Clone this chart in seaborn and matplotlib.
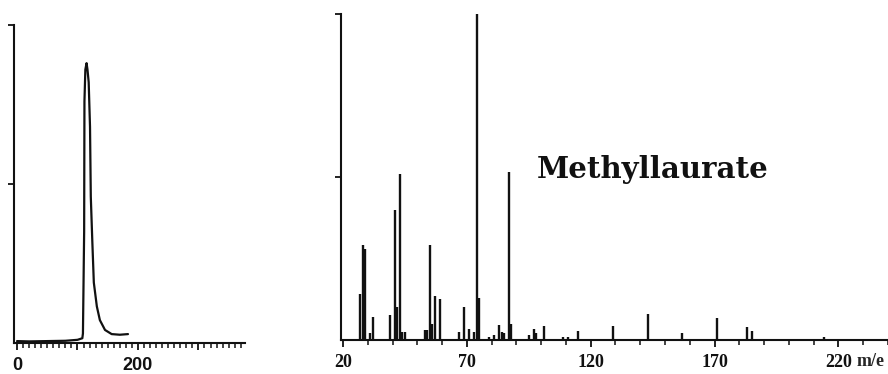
import numpy as np
import pandas as pd
import matplotlib
matplotlib.use("Agg")
import matplotlib.pyplot as plt
from matplotlib.ticker import MultipleLocator, FixedLocator, NullFormatter
import seaborn as sns

# ---- data: chromatogram (left) ----
chrom_time = [0, 20, 50, 80, 100, 108, 109, 111, 111.5, 113, 115, 116.5, 118.5,
              120.7, 122, 124.5, 127, 132, 137, 145.5, 156.5, 170, 183.5]
chrom_signal = [0.006, 0.005, 0.006, 0.007, 0.010, 0.015, 0.03, 0.35, 0.76, 0.86, 0.88,
                0.86, 0.82, 0.68, 0.46, 0.32, 0.19, 0.115, 0.072, 0.041, 0.028,
                0.026, 0.028]
chrom_ticks = [0, 200]

# ---- data: mass spectrum (right) ----
mz = [27, 28, 29, 31, 32, 39, 41, 42, 43, 44, 45, 53, 54, 55, 56, 57, 59, 67, 69,
      71, 73, 74, 75, 79, 81, 83, 84, 85, 87, 88, 95, 97, 98, 101, 109, 111, 115,
      129, 143, 157, 171, 183, 185, 214]
intensity = [14, 29, 28, 2, 7, 7.7, 40, 10, 51, 2.5, 2.5, 3, 3, 29, 5, 13.5, 12.5,
             2.5, 10, 3.5, 2.5, 100, 13, 1, 1.5, 4.6, 2.5, 2, 51.5, 5, 1.5, 3.3, 2,
             4.3, 1, 1, 2.8, 4.3, 8, 2, 6.7, 4, 2.8, 1]
ms_ticks = [20, 70, 120, 170, 220]
title = "Methyllaurate"
unit = "m/e"

sns.set_theme(style="ticks")
plt.rcParams["font.family"] = ["DejaVu Sans"]

W, H = 888, 374
fig = plt.figure(figsize=(W / 100, H / 100), dpi=100)

def box(x0, y0, x1, y1):
    return [x0 / W, 1 - y1 / H, (x1 - x0) / W, (y1 - y0) / H]

lw = 1.5
black = "#111111"

# ---------------- left panel ----------------
ax1 = fig.add_axes(box(14, 25, 245, 343))
df_c = pd.DataFrame({"t": chrom_time, "s": chrom_signal})
sns.lineplot(data=df_c, x="t", y="s", ax=ax1, color=black, lw=1.6, sort=False)
ax1.set_xlim(-5, 377)
ax1.set_ylim(0, 1)
ax1.set_xlabel("")
ax1.set_ylabel("")
ax1.xaxis.set_major_locator(FixedLocator([0, 100, 200, 300]))
ax1.xaxis.set_minor_locator(MultipleLocator(10))
ax1.set_xticklabels([str(v) if v in chrom_ticks else "" for v in [0, 100, 200, 300]],
                    fontfamily="Liberation Sans", fontweight="bold", fontsize=13)
ax1.yaxis.set_major_locator(FixedLocator([0.5, 1.0]))
ax1.yaxis.set_major_formatter(NullFormatter())

# ---------------- right panel ----------------
ax2 = fig.add_axes(box(341, 14, 888, 340))
ax2.vlines(mz, 0, intensity, color=black, lw=1.7)
ax2.set_xlim(19.2, 240)
ax2.set_ylim(0, 100)
ax2.xaxis.set_major_locator(FixedLocator(ms_ticks))
ax2.xaxis.set_minor_locator(MultipleLocator(10))
ax2.set_xticklabels([str(v) for v in ms_ticks],
                    fontfamily="Liberation Serif", fontweight="bold", fontsize=13)
ax2.yaxis.set_major_locator(FixedLocator([50, 100]))
ax2.yaxis.set_major_formatter(NullFormatter())
ax2.text(857 / W, 1 - 362 / H, unit, transform=fig.transFigure, ha="left",
         va="center", fontfamily="Liberation Serif", fontweight="bold", fontsize=13)

for ax in (ax1, ax2):
    sns.despine(ax=ax)
    for s in ("left", "bottom"):
        ax.spines[s].set_linewidth(lw)
        ax.spines[s].set_color(black)
    ax.tick_params(axis="x", which="major", direction="out", length=5, width=1.3,
                   pad=5, colors=black)
    ax.tick_params(axis="x", which="minor", direction="out", length=3.5, width=1.1,
                   colors=black)
    ax.tick_params(axis="y", which="major", direction="out", length=4, width=1.3,
                   colors=black)
    ax.patch.set_alpha(0)
    ax.set_clip_on(False)

fig.text(537 / W, 1 - 178 / H, title, ha="left", va="baseline",
         fontfamily="DejaVu Serif", fontweight="bold", fontsize=21, color=black)

fig.savefig("out.png", dpi=100)
